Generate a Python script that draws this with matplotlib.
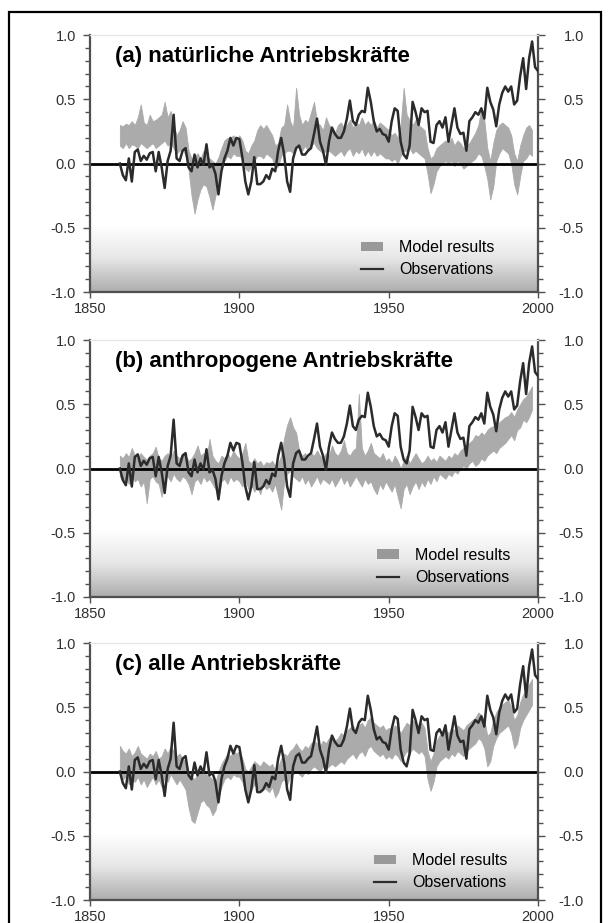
import numpy as np
import matplotlib.pyplot as plt
from matplotlib.patches import Patch, Rectangle
from matplotlib.lines import Line2D
from matplotlib.colors import LinearSegmentedColormap
from matplotlib.ticker import MultipleLocator, FixedLocator, FuncFormatter
from matplotlib.transforms import ScaledTranslation

plt.rcParams['font.family'] = ['Liberation Sans', 'DejaVu Sans']
plt.rcParams['axes.unicode_minus'] = False

# observed anomalies (same line in all three panels)
obs_years = np.arange(1860, 2001)
obs = [
    0.00, -0.09, -0.13, 0.04, -0.14, 0.09, 0.11, 0.02, 0.06, 0.03,
    0.08, 0.09, -0.06, 0.09, -0.03, -0.19, 0.02, 0.10, 0.38, 0.04,
    0.02, 0.10, 0.12, -0.03, -0.06, 0.07, -0.03, 0.04, -0.01, 0.15,
    -0.03, -0.01, -0.08, -0.24, -0.06, 0.04, 0.10, 0.20, 0.14, 0.20,
    0.19, 0.05, -0.14, -0.24, -0.14, 0.05, -0.16, -0.16, -0.14, -0.09,
    -0.12, -0.04, -0.06, 0.10, 0.20, 0.07, -0.14, -0.22, 0.04, 0.12,
    0.14, 0.07, 0.07, 0.10, 0.12, 0.23, 0.35, 0.17, 0.10, -0.01,
    0.17, 0.28, 0.23, 0.20, 0.20, 0.25, 0.35, 0.49, 0.33, 0.30,
    0.38, 0.41, 0.40, 0.59, 0.48, 0.33, 0.25, 0.27, 0.23, 0.22,
    0.17, 0.33, 0.43, 0.41, 0.17, 0.07, 0.04, 0.14, 0.48, 0.40,
    0.30, 0.43, 0.40, 0.41, 0.17, 0.16, 0.30, 0.33, 0.28, 0.36,
    0.17, 0.30, 0.43, 0.28, 0.23, 0.24, 0.10, 0.33, 0.36, 0.40,
    0.38, 0.43, 0.35, 0.59, 0.48, 0.42, 0.29, 0.46, 0.55, 0.60,
    0.56, 0.60, 0.46, 0.49, 0.68, 0.82, 0.58, 0.82, 0.95, 0.75,
    0.72,
]

# model ensemble ranges, 1860-1998
model_years = np.arange(1860, 1999)

nat_hi = [
    0.30, 0.29, 0.31, 0.30, 0.33, 0.30, 0.36, 0.46, 0.32, 0.30,
    0.38, 0.33, 0.34, 0.36, 0.38, 0.48, 0.36, 0.41, 0.30, 0.22,
    0.26, 0.33, 0.28, 0.10, 0.04, 0.05, 0.08, 0.04, 0.10, 0.06,
    0.04, 0.02, 0.00, 0.05, 0.12, 0.18, 0.20, 0.20, 0.22, 0.18,
    0.22, 0.18, 0.10, 0.08, 0.14, 0.18, 0.26, 0.30, 0.27, 0.30,
    0.26, 0.22, 0.14, 0.16, 0.28, 0.30, 0.46, 0.33, 0.28, 0.59,
    0.38, 0.30, 0.34, 0.32, 0.40, 0.48, 0.32, 0.30, 0.26, 0.36,
    0.30, 0.28, 0.24, 0.30, 0.32, 0.28, 0.30, 0.34, 0.28, 0.32,
    0.30, 0.36, 0.30, 0.33, 0.30, 0.34, 0.28, 0.32, 0.30, 0.28,
    0.26, 0.22, 0.24, 0.20, 0.30, 0.59, 0.38, 0.34, 0.30, 0.34,
    0.30, 0.28, 0.26, 0.12, 0.04, 0.06, 0.12, 0.14, 0.16, 0.18,
    0.16, 0.20, 0.14, 0.18, 0.16, 0.12, 0.14, 0.16, 0.20, 0.24,
    0.30, 0.43, 0.34, 0.12, 0.02, 0.16, 0.26, 0.30, 0.32, 0.30,
    0.28, 0.22, 0.08, 0.02, 0.14, 0.22, 0.28, 0.30, 0.26,
]
nat_lo = [
    0.14, 0.12, 0.16, 0.12, 0.15, 0.14, 0.12, 0.16, 0.14, 0.12,
    0.14, 0.16, 0.12, 0.14, 0.16, 0.18, 0.14, 0.16, 0.12, 0.08,
    0.10, 0.12, 0.06, -0.05, -0.25, -0.39, -0.28, -0.20, -0.16, -0.18,
    -0.26, -0.36, -0.25, -0.15, -0.05, 0.02, 0.06, 0.04, 0.08, 0.06,
    0.06, 0.04, -0.04, -0.06, -0.02, 0.02, 0.06, 0.06, 0.04, 0.08,
    0.06, 0.04, -0.04, -0.02, 0.06, 0.08, 0.10, 0.10, 0.08, 0.12,
    0.14, 0.10, 0.14, 0.10, 0.14, 0.16, 0.12, 0.10, 0.08, 0.10,
    0.10, 0.08, 0.06, 0.08, 0.10, 0.06, 0.10, 0.12, 0.06, 0.10,
    0.08, 0.12, 0.06, 0.10, 0.06, 0.10, 0.06, 0.08, 0.06, 0.04,
    0.04, 0.02, 0.04, 0.00, 0.06, 0.10, 0.10, 0.12, 0.08, 0.10,
    0.08, 0.06, 0.04, -0.08, -0.23, -0.16, -0.06, -0.02, 0.00, 0.02,
    0.00, 0.02, -0.02, 0.02, 0.00, -0.04, -0.02, 0.00, 0.02, 0.04,
    0.08, 0.06, -0.02, -0.12, -0.28, -0.18, 0.02, 0.08, 0.12, 0.10,
    0.08, 0.00, -0.16, -0.24, -0.10, 0.02, 0.04, 0.08, 0.06,
]

ant_hi = [
    0.10, 0.08, 0.12, 0.09, 0.16, 0.10, 0.08, 0.12, 0.09, 0.07,
    0.10, 0.12, 0.17, 0.08, 0.06, 0.10, 0.12, 0.08, 0.14, 0.10,
    0.08, 0.12, 0.10, 0.06, 0.08, 0.12, 0.18, 0.10, 0.12, 0.08,
    0.23, 0.10, 0.06, 0.04, 0.10, 0.08, 0.12, 0.08, 0.14, 0.10,
    0.08, 0.12, 0.20, 0.06, 0.04, 0.08, 0.04, 0.06, 0.02, 0.05,
    0.04, 0.06, 0.02, 0.04, 0.10, 0.24, 0.34, 0.40, 0.32, 0.28,
    0.14, 0.10, 0.12, 0.08, 0.12, 0.10, 0.14, 0.10, 0.08, 0.12,
    0.10, 0.18, 0.12, 0.10, 0.14, 0.22, 0.12, 0.10, 0.14, 0.16,
    0.58, 0.16, 0.10, 0.14, 0.20, 0.12, 0.10, 0.08, 0.12, 0.06,
    0.08, 0.04, 0.10, 0.06, 0.00, 0.06, 0.10, 0.04, 0.08, 0.12,
    0.08, 0.04, 0.06, 0.10, 0.06, 0.08, 0.05, 0.10, 0.08, 0.06,
    0.10, 0.08, 0.12, 0.10, 0.14, 0.16, 0.18, 0.20, 0.22, 0.26,
    0.25, 0.28, 0.26, 0.30, 0.32, 0.33, 0.30, 0.36, 0.38, 0.40,
    0.41, 0.44, 0.40, 0.46, 0.50, 0.54, 0.56, 0.60, 0.64,
]
ant_lo = [
    -0.06, -0.10, -0.08, -0.12, -0.06, -0.10, -0.08, -0.14, -0.10, -0.27,
    -0.08, -0.06, -0.10, -0.12, -0.22, -0.08, -0.06, -0.10, -0.04, -0.08,
    -0.10, -0.06, -0.08, -0.12, -0.20, -0.10, -0.08, -0.12, -0.06, -0.10,
    -0.08, -0.12, -0.16, -0.24, -0.10, -0.08, -0.12, -0.06, -0.10, -0.08,
    -0.10, -0.14, -0.08, -0.16, -0.12, -0.18, -0.14, -0.20, -0.12, -0.16,
    -0.14, -0.18, -0.12, -0.22, -0.32, -0.10, -0.04, -0.02, -0.06, -0.08,
    -0.10, -0.06, -0.12, -0.08, -0.14, -0.10, -0.06, -0.12, -0.08, -0.10,
    -0.12, -0.08, -0.14, -0.10, -0.06, -0.12, -0.08, -0.14, -0.10, -0.06,
    -0.10, -0.14, -0.08, -0.12, -0.10, -0.16, -0.20, -0.12, -0.16, -0.10,
    -0.14, -0.18, -0.12, -0.22, -0.31, -0.16, -0.12, -0.20, -0.14, -0.10,
    -0.16, -0.10, -0.14, -0.08, -0.12, -0.06, -0.10, -0.04, -0.06, -0.08,
    -0.04, -0.06, -0.02, -0.04, 0.00, 0.02, 0.00, 0.04, 0.06, 0.02,
    0.04, 0.08, 0.06, 0.10, 0.12, 0.14, 0.12, 0.16, 0.18, 0.20,
    0.23, 0.26, 0.22, 0.30, 0.32, 0.38, 0.36, 0.40, 0.46,
]

all_hi = [
    0.20, 0.16, 0.14, 0.18, 0.12, 0.15, 0.20, 0.14, 0.12, 0.10,
    0.14, 0.12, 0.16, 0.10, 0.12, 0.18, 0.14, 0.20, 0.16, 0.12,
    0.14, 0.10, 0.08, 0.00, -0.04, -0.06, -0.02, 0.00, 0.02, -0.02,
    -0.04, -0.06, -0.08, 0.00, 0.06, 0.10, 0.14, 0.12, 0.16, 0.14,
    0.16, 0.10, 0.02, 0.00, 0.04, 0.08, 0.06, 0.04, 0.08, 0.06,
    0.04, 0.06, 0.00, 0.04, 0.10, 0.14, 0.12, 0.16, 0.18, 0.22,
    0.18, 0.16, 0.20, 0.18, 0.22, 0.24, 0.22, 0.20, 0.24, 0.22,
    0.26, 0.28, 0.24, 0.26, 0.30, 0.28, 0.32, 0.34, 0.36, 0.32,
    0.36, 0.38, 0.34, 0.40, 0.42, 0.38, 0.36, 0.34, 0.36, 0.32,
    0.34, 0.32, 0.36, 0.34, 0.30, 0.34, 0.38, 0.36, 0.40, 0.38,
    0.36, 0.38, 0.34, 0.16, 0.08, 0.14, 0.24, 0.28, 0.30, 0.32,
    0.30, 0.34, 0.32, 0.36, 0.34, 0.32, 0.36, 0.38, 0.40, 0.42,
    0.46, 0.44, 0.40, 0.28, 0.30, 0.40, 0.46, 0.50, 0.52, 0.54,
    0.56, 0.50, 0.40, 0.44, 0.54, 0.60, 0.64, 0.68, 0.72,
]
all_lo = [
    -0.02, -0.06, -0.04, -0.10, -0.06, -0.08, -0.04, -0.10, -0.06, -0.12,
    -0.08, -0.04, -0.10, -0.06, -0.12, -0.04, -0.08, -0.02, -0.06, -0.10,
    -0.06, -0.10, -0.14, -0.28, -0.38, -0.40, -0.32, -0.24, -0.22, -0.26,
    -0.28, -0.34, -0.30, -0.20, -0.12, -0.06, -0.04, -0.06, -0.02, -0.04,
    -0.04, -0.08, -0.16, -0.20, -0.14, -0.10, -0.12, -0.16, -0.12, -0.14,
    -0.16, -0.12, -0.20, -0.16, -0.08, -0.06, -0.10, -0.04, -0.02, 0.00,
    -0.02, -0.04, 0.00, -0.02, 0.02, 0.04, 0.02, 0.00, 0.04, 0.02,
    0.04, 0.06, 0.04, 0.06, 0.08, 0.06, 0.10, 0.12, 0.14, 0.10,
    0.14, 0.16, 0.12, 0.18, 0.20, 0.16, 0.14, 0.12, 0.14, 0.10,
    0.12, 0.10, 0.14, 0.12, 0.08, 0.12, 0.16, 0.14, 0.18, 0.16,
    0.14, 0.16, 0.12, -0.06, -0.15, -0.08, 0.04, 0.08, 0.10, 0.12,
    0.10, 0.14, 0.12, 0.16, 0.14, 0.12, 0.16, 0.18, 0.20, 0.22,
    0.26, 0.24, 0.18, 0.04, 0.08, 0.20, 0.26, 0.30, 0.32, 0.34,
    0.36, 0.30, 0.18, 0.22, 0.34, 0.40, 0.44, 0.48, 0.52,
]

titles = ["(a) natürliche Antriebskräfte",
          "(b) anthropogene Antriebskräfte",
          "(c) alle Antriebskräfte"]
bands = [(nat_lo, nat_hi), (ant_lo, ant_hi), (all_lo, all_hi)]

band_color = "#ababab"
obs_color = "#2b2b2b"
axis_color = "#505050"

fig = plt.figure(figsize=(6.08, 9.23), dpi=100)

# outer frame of the figure
fig.patches.append(Rectangle((9 / 608, -0.05), 592 / 608, 1.05 - 12 / 923,
                             transform=fig.transFigure, fill=False,
                             ec="black", lw=1.6))

bottoms = [0.6836, 0.3532, 0.0249]
legend_pos = [(0.605, 0.13), (0.64, 0.12), (0.634, 0.11)]
grad = LinearSegmentedColormap.from_list("bg", ["#ffffff", "#e6e6e6", "#adadad"])
right_off = ScaledTranslation(23 / 72, 0, fig.dpi_scale_trans)

for i in range(3):
    ax = fig.add_axes([0.148, bottoms[i], 0.737, 0.2784])
    lo, hi = bands[i]

    # grey gradient at the bottom of each panel
    ax.imshow(np.linspace(0, 1, 100).reshape(-1, 1), cmap=grad, aspect="auto",
              extent=[1850, 2000, -1.0, -0.48], origin="upper", zorder=0)

    ax.fill_between(model_years, lo, hi, color=band_color, lw=0.6,
                    edgecolor=band_color, zorder=1)
    ax.axhline(0, color="black", lw=2.0, zorder=2)
    ax.plot(obs_years, obs, color=obs_color, lw=1.8, zorder=3)

    ax.set_xlim(1850, 2000)
    ax.set_ylim(-1.0, 1.0)

    ax.xaxis.set_major_locator(FixedLocator([1850, 1900, 1950, 2000]))
    ax.yaxis.set_major_locator(FixedLocator([-1.0, -0.5, 0.0, 0.5, 1.0]))
    ax.yaxis.set_minor_locator(MultipleLocator(0.1))
    ax.yaxis.set_major_formatter(FuncFormatter(lambda v, p: f"{v:.1f}"))

    ax.tick_params(axis="both", which="both", direction="out",
                   color=axis_color, labelcolor="#303030", labelsize=10.5)
    ax.tick_params(axis="y", which="major", length=5, width=1.0, pad=5,
                   left=True, right=True, labelleft=True, labelright=True)
    ax.tick_params(axis="y", which="minor", length=3.5, width=1.0,
                   left=True, right=True)
    ax.tick_params(axis="x", which="major", length=4, width=1.0, pad=3)

    # right-hand labels are right-aligned, as in the original
    for t in ax.yaxis.get_major_ticks():
        t.label2.set_horizontalalignment("right")
        t.label2.set_transform(t.label2.get_transform() + right_off)

    for side in ["left", "right", "bottom"]:
        ax.spines[side].set_color(axis_color)
        ax.spines[side].set_linewidth(1.6)
    ax.spines["top"].set_color("#e6e6e6")
    ax.spines["top"].set_linewidth(1.0)

    ax.text(0.056, 0.915, titles[i], transform=ax.transAxes, fontsize=16,
            fontweight="bold", va="center", ha="left", color="black")

    handles = [Patch(facecolor="#999999", edgecolor="none"),
               Line2D([], [], color=obs_color, lw=1.6)]
    ax.legend(handles, ["Model results", "Observations"], loc="center left",
              bbox_to_anchor=legend_pos[i], frameon=False, fontsize=11.5,
              handlelength=1.4, handleheight=0.55, handletextpad=1.0,
              labelspacing=0.45, borderpad=0, borderaxespad=0)

fig.savefig("out.png", dpi=100)
